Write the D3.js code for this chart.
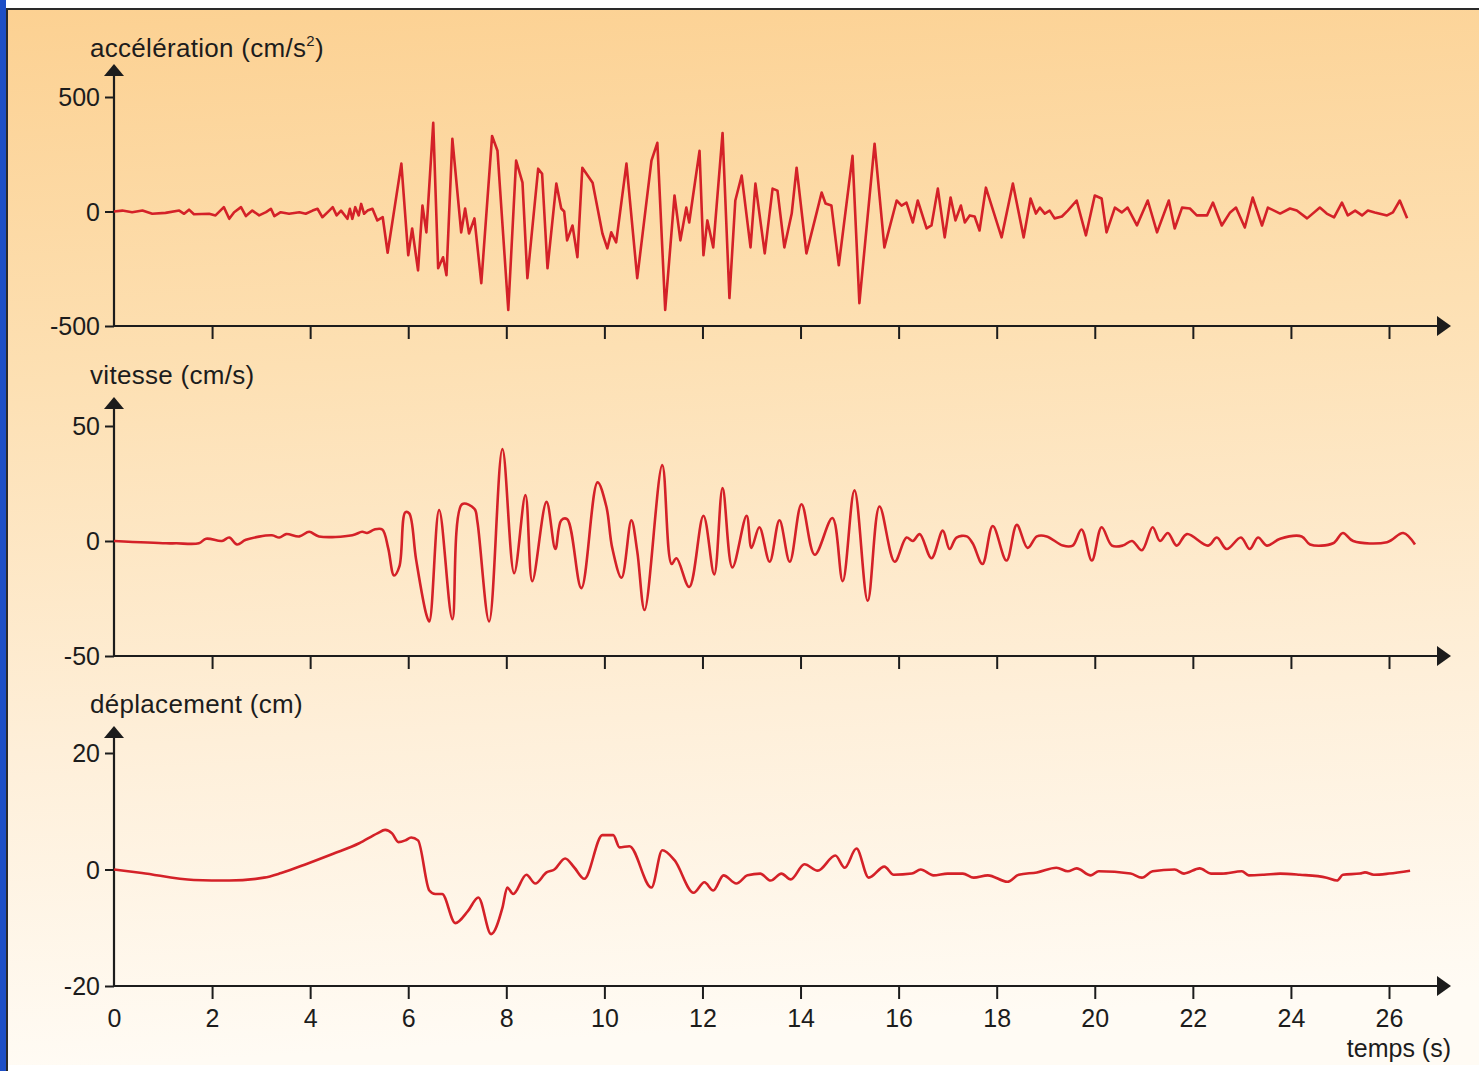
<!DOCTYPE html>
<html>
<head>
<meta charset="utf-8">
<script src="https://cdn.jsdelivr.net/npm/d3@7"></script>
<style>
  html, body { margin: 0; padding: 0; background: #fff; }
  svg { display: block; }
  text { font-family: "Liberation Sans", Arial, Helvetica, sans-serif; fill: #1c1c1c; }
</style>
</head>
<body>
<svg id="chart" width="1479" height="1071"></svg>
<script>
// Time axis (s)
const timeTicks = [0, 2, 4, 6, 8, 10, 12, 14, 16, 18, 20, 22, 24, 26];

// Acceleration record (cm/s²)
const accT = [0, 0.17, 0.37, 0.58, 0.78, 1.05, 1.33, 1.43, 1.53, 1.63, 1.94, 2.07, 2.24, 2.35, 2.45, 2.59, 2.69, 2.82, 2.96, 3.10,
  3.20, 3.27, 3.40, 3.57, 3.78, 3.91, 4.05, 4.15, 4.25, 4.39, 4.46, 4.54, 4.63, 4.76, 4.81, 4.86, 4.92, 4.99, 5.04, 5.10,
  5.17, 5.27, 5.37, 5.48, 5.58, 5.86, 6.00, 6.08, 6.20, 6.29, 6.37, 6.51, 6.61, 6.71, 6.78, 6.90, 7.08, 7.16, 7.24, 7.35,
  7.49, 7.71, 7.82, 8.04, 8.20, 8.33, 8.43, 8.65, 8.73, 8.84, 9.02, 9.12, 9.18, 9.24, 9.35, 9.45, 9.55, 9.76, 9.96, 10.06,
  10.14, 10.24, 10.45, 10.67, 10.96, 11.08, 11.24, 11.43, 11.55, 11.67, 11.73, 11.80, 11.94, 12.02, 12.10, 12.22, 12.41, 12.55, 12.67, 12.80,
  12.98, 13.08, 13.27, 13.43, 13.53, 13.67, 13.82, 13.92, 14.12, 14.33, 14.43, 14.51, 14.63, 14.78, 15.06, 15.20, 15.51, 15.71, 15.96, 16.06,
  16.16, 16.29, 16.39, 16.57, 16.67, 16.80, 16.94, 17.06, 17.16, 17.27, 17.35, 17.45, 17.55, 17.65, 17.78, 18.10, 18.33, 18.55, 18.69, 18.80,
  18.88, 18.98, 19.08, 19.18, 19.33, 19.45, 19.63, 19.82, 20.00, 20.14, 20.24, 20.41, 20.55, 20.67, 20.86, 21.08, 21.27, 21.51, 21.63, 21.78,
  21.94, 22.08, 22.29, 22.41, 22.59, 22.76, 22.88, 23.06, 23.22, 23.41, 23.53, 23.78, 23.98, 24.12, 24.33, 24.59, 24.73, 24.88, 25.04, 25.16,
  25.31, 25.45, 25.57, 25.71, 25.96, 26.08, 26.22, 26.37];
const accV = [0, 4, -3, 4, -10, -6, 4, -10, 8, -12, -10, -17, 19, -32, -3, 19, -20, 4, -17, -3,
  12, -20, -3, -10, -3, -10, 4, 12, -25, 4, 19, -17, 4, -32, 12, -32, 19, -17, 33, -10,
  4, 12, -39, -25, -180, 209, -191, -74, -257, 26, -91, 387, -248, -200, -278, 317, -91, 13, -96, -30,
  -313, 330, 265, -430, 222, 126, -291, 187, 165, -248, 122, 13, 0, -126, -61, -200, 191, 126, -96, -161,
  -91, -135, 209, -291, 222, 300, -430, 70, -126, 17, -48, 57, 265, -191, -39, -157, 343, -378, 48, 157,
  -157, 122, -183, 100, 91, -157, -9, 191, -183, -4, 83, 35, 26, -235, 243, -400, 296, -157, 48, 26,
  39, -48, 48, -74, -61, 100, -113, 61, -39, 26, -48, -17, -22, -83, 104, -113, 122, -113, 57, -9,
  17, -9, 4, -30, -22, 4, 48, -104, 70, 57, -91, 17, -4, 17, -61, 48, -91, 48, -74, 17,
  13, -17, -17, 39, -61, -4, 17, -70, 61, -61, 17, -9, 13, 4, -30, 17, -9, -26, 39, -17,
  4, -17, 4, -4, -17, -4, 48, -30];

// Velocity record (cm/s)
const velT = [0, 1.06, 1.27, 1.73, 1.88, 2.20, 2.35, 2.51, 2.69, 3.22, 3.37, 3.51, 3.78, 3.98, 4.18, 4.86, 5.06, 5.16, 5.31, 5.47,
  5.59, 5.71, 5.82, 5.94, 6.02, 6.16, 6.37, 6.43, 6.63, 6.90, 7.10, 7.35, 7.41, 7.65, 7.92, 8.16, 8.39, 8.53, 8.82, 9.00,
  9.12, 9.24, 9.53, 9.86, 10.04, 10.16, 10.35, 10.55, 10.67, 10.82, 11.18, 11.37, 11.47, 11.73, 12.02, 12.24, 12.41, 12.61, 12.90, 13.00,
  13.16, 13.37, 13.57, 13.78, 14.02, 14.29, 14.65, 14.86, 15.10, 15.37, 15.61, 15.92, 16.16, 16.29, 16.43, 16.67, 16.90, 17.04, 17.18, 17.39,
  17.51, 17.71, 17.92, 18.20, 18.41, 18.63, 18.82, 19.02, 19.35, 19.55, 19.73, 19.94, 20.14, 20.35, 20.57, 20.76, 20.96, 21.18, 21.33, 21.49,
  21.67, 21.88, 22.31, 22.49, 22.69, 22.98, 23.16, 23.33, 23.51, 23.78, 24.22, 24.39, 24.86, 25.06, 25.27, 25.96, 26.29, 26.53];
const velV = [0, -1, -1, -1, 1, 0, 1.5, -1.5, 0.5, 2.5, 1.5, 3, 2, 4, 2, 2.5, 4, 3.5, 5, 5,
  -3, -15, -11, 12.5, 12, -8, -32, -35, 13.5, -34, 16, 14, 8.5, -35, 40, -14, 20, -17.5, 17, -3.5,
  9, 9.5, -20.5, 25.5, 15, -3, -16, 9, -4.5, -30, 33, -10, -7.5, -20, 11, -14.5, 23, -11.5, 11, -3,
  6, -9, 9, -9, 16, -6, 10, -17.5, 22, -26, 15, -9, 1.5, 0, 3, -7.5, 4.5, -3.5, 1.5, 2,
  -1, -10, 6.5, -8.5, 7, -3, 2, 2, -2, -2, 5, -8.5, 6, -2, -2, 0, -4, 6, 0, 3.5,
  -2, 3, -2, 1.5, -3.5, 1.5, -3.5, 1.5, -2, 1, 2, -1.5, -1, 3.5, 0, -0.5, 3.5, -1.5];

// Displacement record (cm)
const depT = [0, 0.57, 1.63, 2.35, 3.06, 3.41, 3.94, 4.47, 5.00, 5.37, 5.53, 5.67, 5.80, 5.94, 6.06, 6.20, 6.43, 6.55, 6.69, 6.96,
  7.22, 7.43, 7.69, 7.92, 8.02, 8.14, 8.41, 8.59, 8.82, 8.98, 9.20, 9.39, 9.59, 9.96, 10.18, 10.31, 10.51, 10.96, 11.18, 11.43,
  11.82, 12.04, 12.22, 12.43, 12.69, 12.92, 13.18, 13.39, 13.61, 13.80, 14.08, 14.35, 14.71, 14.90, 15.14, 15.39, 15.71, 15.90, 16.27, 16.45,
  16.71, 17.00, 17.31, 17.53, 17.82, 18.22, 18.45, 18.82, 19.22, 19.45, 19.63, 19.92, 20.08, 20.73, 20.96, 21.18, 21.63, 21.82, 22.14, 22.37,
  22.59, 23.00, 23.14, 23.45, 23.78, 24.18, 24.73, 24.94, 25.06, 25.41, 25.51, 25.69, 26.00, 26.43];
const depV = [0, -0.6, -1.8, -1.9, -1.4, -0.6, 1, 2.7, 4.5, 6.2, 6.8, 6.2, 4.7, 5, 5.5, 5, -3.6, -4.2, -4.2, -9.2,
  -7.1, -4.8, -11.1, -6.6, -3.1, -4.2, -0.9, -2.4, -0.5, 0, 1.9, 0.3, -1.6, 5.9, 5.9, 3.8, 4, -3.1, 3.3, 1.6,
  -4, -2.2, -3.6, -1, -2.4, -1, -0.7, -1.9, -0.7, -1.7, 0.9, -0.2, 2.4, 0.3, 3.6, -1.4, 0.5, -0.9, -0.7, 0,
  -1, -0.7, -0.7, -1.4, -1, -2.1, -0.9, -0.5, 0.3, -0.3, 0.2, -1, -0.3, -0.7, -1.4, -0.3, 0, -0.7, 0.2, -0.7,
  -0.7, -0.3, -1, -0.9, -0.7, -0.9, -1.4, -1.9, -0.9, -0.7, -0.5, -0.9, -0.7, -0.2];

const W = 1479, H = 1071;
const svg = d3.select("#chart");

// ---- background, frame ----
const defs = svg.append("defs");
const grad = defs.append("linearGradient").attr("id", "bg")
  .attr("x1", 0).attr("y1", 0).attr("x2", 0.08).attr("y2", 1);
[[0, "#fcd192"], [0.35, "#fde0b3"], [0.7, "#feefd9"], [1, "#fffbf4"]].forEach(([o, c]) =>
  grad.append("stop").attr("offset", o).attr("stop-color", c));

svg.append("rect").attr("width", W).attr("height", H).attr("fill", "#ffffff");
svg.append("rect").attr("x", 7).attr("y", 10).attr("width", W - 7).attr("height", H - 16).attr("fill", "url(#bg)");
svg.append("rect").attr("x", 0).attr("y", 0).attr("width", 6).attr("height", H).attr("fill", "#1d4fc6");
svg.append("line").attr("x1", 6).attr("x2", W).attr("y1", 9).attr("y2", 9).attr("stroke", "#2a2a2a").attr("stroke-width", 2);
svg.append("line").attr("x1", 7).attr("x2", 7).attr("y1", 9).attr("y2", H).attr("stroke", "#2a2a2a").attr("stroke-width", 2);

// ---- shared time scale ----
const x = d3.scaleLinear().domain([0, 26]).range([114, 1389]);
const axisColor = "#1c1c1c";
const lineColor = "#d42128";
const plainNumber = d => String(d);   // keeps the ASCII hyphen for negatives

const panels = [
  { title: "accélération (cm/s", sup: "2", tail: ")", T: accT, V: accV, domain: [-500, 500], range: [326, 97],
    ticks: [-500, 0, 500], titleY: 57, arrowTop: 64, curve: d3.curveLinear },
  { title: "vitesse (cm/s)", T: velT, V: velV, domain: [-50, 50], range: [656, 426],
    ticks: [-50, 0, 50], titleY: 384, arrowTop: 397, curve: d3.curveCatmullRom.alpha(0.5) },
  { title: "déplacement (cm)", T: depT, V: depV, domain: [-20, 20], range: [986, 753],
    ticks: [-20, 0, 20], titleY: 713, arrowTop: 726, curve: d3.curveMonotoneX }
];

panels.forEach((p, i) => {
  const y = d3.scaleLinear().domain(p.domain).range(p.range);
  const g = svg.append("g");
  const x0 = x(0);
  const yBase = p.range[0];
  const last = i === panels.length - 1;

  // title
  const t = g.append("text").attr("x", 90).attr("y", p.titleY).attr("font-size", 26)
    .attr("letter-spacing", 0.3).text(p.title);
  if (p.sup) {
    t.append("tspan").attr("font-size", 15).attr("dy", -11).text(p.sup);
    t.append("tspan").attr("dy", 11).text(p.tail);
  }

  // vertical axis with arrow head
  g.append("line").attr("x1", x0).attr("x2", x0).attr("y1", p.arrowTop + 8).attr("y2", yBase)
    .attr("stroke", axisColor).attr("stroke-width", 2.2);
  g.append("path")
    .attr("d", `M${x0},${p.arrowTop} L${x0 + 10},${p.arrowTop + 12} L${x0 - 10},${p.arrowTop + 12} Z`)
    .attr("fill", axisColor);

  const yAxis = g.append("g").attr("transform", `translate(${x0},0)`)
    .call(d3.axisLeft(y).tickValues(p.ticks).tickSize(9).tickPadding(5).tickFormat(plainNumber));
  yAxis.select(".domain").remove();
  yAxis.selectAll(".tick line").attr("stroke", axisColor).attr("stroke-width", 2);
  yAxis.selectAll(".tick text").attr("font-size", 25).attr("font-family", null).attr("fill", axisColor)
    .attr("dy", "0.35em");

  // horizontal time axis with arrow head
  g.append("line").attr("x1", x0).attr("x2", 1440).attr("y1", yBase).attr("y2", yBase)
    .attr("stroke", axisColor).attr("stroke-width", 2.2);
  g.append("path")
    .attr("d", `M1451,${yBase} L1437,${yBase - 10} L1437,${yBase + 10} Z`)
    .attr("fill", axisColor);

  const xAxis = g.append("g").attr("transform", `translate(0,${yBase})`)
    .call(d3.axisBottom(x).tickValues(last ? timeTicks : timeTicks.slice(1)).tickSize(13).tickPadding(10)
      .tickFormat(last ? plainNumber : ""));
  xAxis.select(".domain").remove();
  xAxis.selectAll(".tick line").attr("stroke", axisColor).attr("stroke-width", 2)
    .attr("opacity", d => (d === 0 ? 0 : 1));
  xAxis.selectAll(".tick text").attr("font-size", 25).attr("font-family", null).attr("fill", axisColor);

  // the record itself
  const line = d3.line().x(d => x(d[0])).y(d => y(d[1])).curve(p.curve);
  g.append("path").datum(d3.zip(p.T, p.V))
    .attr("d", line)
    .attr("fill", "none")
    .attr("stroke", lineColor)
    .attr("stroke-width", 2.6)
    .attr("stroke-linejoin", "round");
});

svg.append("text").attr("x", 1451).attr("y", 1057).attr("text-anchor", "end")
  .attr("font-size", 25).text("temps (s)");
</script>
</body>
</html>
